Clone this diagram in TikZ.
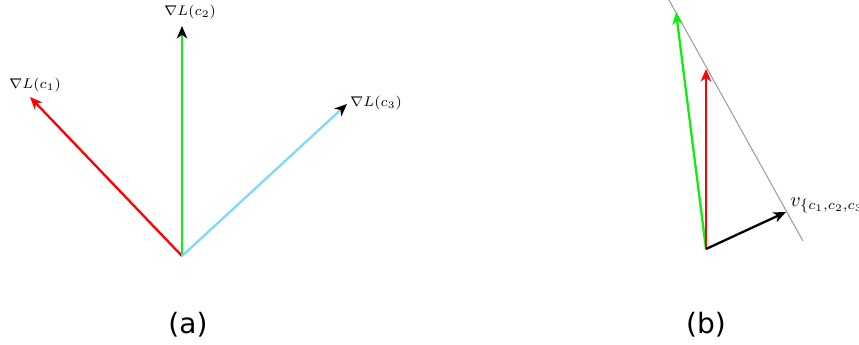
\documentclass[tikz,border=0pt]{standalone}
\usepackage{fontspec}
\newfontfamily\capfont{DejaVu Sans}
\usetikzlibrary{arrows.meta}
\definecolor{vgreen}{RGB}{20,235,20}
\definecolor{vred}{RGB}{255,0,0}
\definecolor{vblue}{RGB}{128,216,250}
\tikzset{
  vec/.style={line width=1.15pt, -{Stealth[length=6.2pt,width=5.2pt,inset=1.8pt]}},
  blackhead/.style={line width=1.15pt, -{Stealth[length=6.2pt,width=5.2pt,inset=1.8pt,black]}},
  lbl/.style={inner sep=0pt, font=\fontsize{7.2}{8.6}\selectfont},
  captext/.style={inner sep=0pt, font=\capfont\fontsize{14}{16}\selectfont},
}
\begin{document}
\begin{tikzpicture}[x=0.5pt,y=-0.5pt]
\useasboundingbox (0,0) rectangle (859,344);
% panel (a)
\coordinate (oa) at (182,256);
\coordinate (t1) at (30,97);
\coordinate (t2) at (182,26);
\coordinate (t3) at (347,104);
\draw[vec, vred] (oa) -- (t1);
\draw[blackhead, vgreen] (oa) -- (t2);
\draw[blackhead, vblue] (oa) -- (t3);
\node[lbl] (l1) at (35,85) {$\nabla L(c_1)$};
\node[lbl] (l2) at (190,12) {$\nabla L(c_2)$};
\node[lbl] (l3) at (376,103) {$\nabla L(c_3)$};
\node[captext] (ca) at (188,325) {(a)};
% panel (b)
\coordinate (ob) at (706,249);
\coordinate (g0) at (669,0);
\coordinate (g1) at (803,241);
\draw[gray!80, line width=0.5pt] (g0) -- (g1);
\coordinate (tg) at (676,12);
\coordinate (tr) at (706,69);
\coordinate (tk) at (786,212);
\draw[vec, vgreen] (ob) -- (tg);
\draw[vec, vred] (ob) -- (tr);
\draw[vec, black] (ob) -- (tk);
\node[inner sep=0pt, anchor=base west, font=\fontsize{10}{12}\selectfont] (lv) at (790,206) {$v_{\{c_1,c_2,c_3\}}$};
\node[captext] (cb) at (706,325) {(b)};
\end{tikzpicture}
\end{document}
